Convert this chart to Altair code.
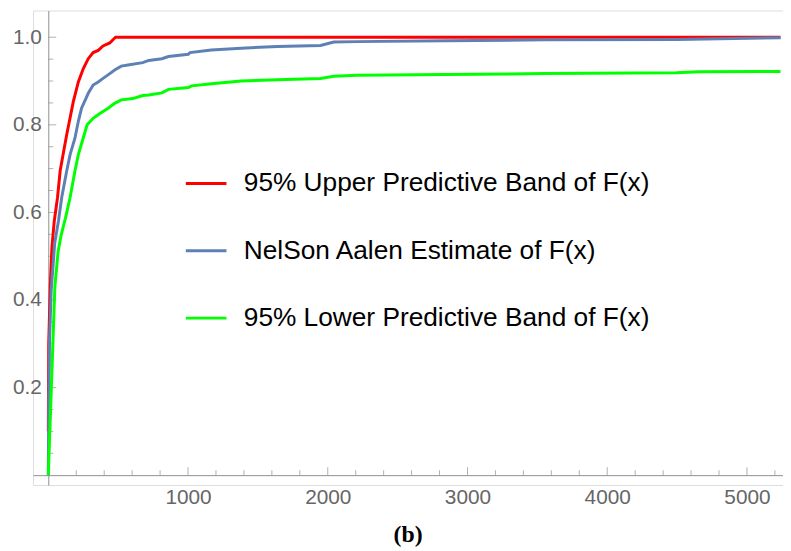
import altair as alt
import pandas as pd

# ---------------- data ----------------
series_names = [
    "95% Upper Predictive Band of F(x)",
    "NelSon Aalen Estimate of F(x)",
    "95% Lower Predictive Band of F(x)",
]
series_colors = ["#FF0000", "#5E81B5", "#00FF00"]

upper_x = [0, 3, 14, 26, 43, 66, 85, 113, 132, 151, 179, 215, 250, 286, 321,
           357, 392, 440, 468, 482, 5240]
upper_y = [0.10, 0.30, 0.43, 0.521, 0.581, 0.634, 0.695, 0.745, 0.778, 0.808,
           0.853, 0.898, 0.928, 0.951, 0.965, 0.970, 0.980, 0.987, 0.996, 1.0, 1.0]

na_x = [0, 3, 9, 21, 46, 73, 96, 132, 156, 191, 215, 238, 286, 321, 357, 392,
        440, 475, 522, 581, 676, 719, 813, 860, 1002, 1014, 1167, 1380, 1640,
        1948, 2043, 2208, 2847, 3556, 4498, 5240]
na_y = [0.0, 0.15, 0.31, 0.423, 0.53, 0.581, 0.634, 0.695, 0.732, 0.77, 0.808,
        0.838, 0.872, 0.891, 0.898, 0.906, 0.917, 0.925, 0.934, 0.937, 0.942,
        0.947, 0.951, 0.956, 0.961, 0.965, 0.971, 0.975, 0.979, 0.981, 0.989,
        0.990, 0.992, 0.994, 0.995, 0.999]

lower_x = [0, 10, 22, 34, 47, 70, 92, 122, 156, 191, 215, 250, 278, 321, 369, 428,
           475, 522, 605, 676, 719, 813, 860, 1002, 1026, 1167, 1380, 1640, 1948,
           2043, 2208, 2847, 3556, 4498, 4650, 5240]
lower_y = [0.0, 0.09, 0.20, 0.31, 0.43, 0.51, 0.548, 0.586, 0.634, 0.695, 0.732,
           0.77, 0.80, 0.815, 0.826, 0.838, 0.849, 0.857, 0.860, 0.867, 0.868,
           0.873, 0.881, 0.885, 0.889, 0.894, 0.900, 0.903, 0.906, 0.911, 0.913,
           0.915, 0.917, 0.919, 0.921, 0.922]

x_label_values = [1000, 2000, 3000, 4000, 5000]
y_label_values = [0.2, 0.4, 0.6, 0.8, 1.0]
x_minor_values = [v for v in range(200, 5201, 200) if v % 1000 != 0]
y_minor_values = [0.05, 0.1, 0.15, 0.25, 0.3, 0.35, 0.45, 0.5, 0.55,
                  0.65, 0.7, 0.75, 0.85, 0.9, 0.95]

caption = "(b)"

# ---------------- build tables ----------------
rows = []
for name, xs, ys in zip(series_names, [upper_x, na_x, lower_x], [upper_y, na_y, lower_y]):
    for i, (a, b) in enumerate(zip(xs, ys)):
        rows.append({"series": name, "t": a, "F": b, "idx": i})
df = pd.DataFrame(rows)

x_major_df = pd.DataFrame({"t": x_label_values})
x_minor_df = pd.DataFrame({"t": x_minor_values})
y_major_df = pd.DataFrame({"F": y_label_values})
y_minor_df = pd.DataFrame({"F": y_minor_values})

# ---------------- layout ----------------
W, H = 757, 479
X_DOMAIN = [-109, 5258]
Y_DOMAIN = [-0.0226, 1.061]
x0_px = W * (0 - X_DOMAIN[0]) / (X_DOMAIN[1] - X_DOMAIN[0])      # y-axis position
y0_px = H * (Y_DOMAIN[1] - 0) / (Y_DOMAIN[1] - Y_DOMAIN[0])      # x-axis position

GRAY = "#8f8f8f"
LABEL_GRAY = "#666666"
FONT = "Liberation Sans"
MAJOR, MINOR = 8, 5

x_scale = alt.Scale(domain=X_DOMAIN, nice=False, zero=False)
y_scale = alt.Scale(domain=Y_DOMAIN, nice=False, zero=False)

lines = alt.Chart(df).mark_line(strokeWidth=3, clip=True).encode(
    x=alt.X("t:Q", scale=x_scale, title=None,
            axis=alt.Axis(orient="bottom", offset=-(H - y0_px), values=x_label_values,
                          ticks=False, tickSize=0, grid=False, domainColor=GRAY,
                          domainWidth=1, labelColor=LABEL_GRAY, labelFont=FONT,
                          labelFontSize=21, labelPadding=12, labelFlush=False,
                          format="d")),
    y=alt.Y("F:Q", scale=y_scale, title=None,
            axis=alt.Axis(orient="left", offset=-x0_px, values=y_label_values,
                          ticks=False, tickSize=0, grid=False, domainColor=GRAY,
                          domainWidth=1, labelColor=LABEL_GRAY, labelFont=FONT,
                          labelFontSize=21, labelPadding=7, labelFlush=False,
                          format=".1f")),
    color=alt.Color("series:N",
                    scale=alt.Scale(domain=series_names, range=series_colors),
                    sort=series_names,
                    legend=alt.Legend(orient="none", legendX=152.7, legendY=152.5,
                                      title=None, symbolType="stroke", symbolSize=1681,
                                      symbolStrokeWidth=3, labelFontSize=26.5,
                                      labelFont=FONT, labelColor="black",
                                      labelLimit=0, labelOffset=16, rowPadding=32,
                                      padding=0)),
    order=alt.Order("idx:Q"),
)

# axis ticks pointing into the plot, placed through the same scales
def x_ticks(data, size):
    return alt.Chart(data).mark_tick(orient="vertical", size=size, thickness=1,
                                     color=GRAY, yOffset=-size / 2).encode(
        x=alt.X("t:Q", scale=x_scale),
        y=alt.datum(0, scale=y_scale),
    )

def y_ticks(data, size):
    return alt.Chart(data).mark_tick(orient="horizontal", size=size, thickness=1,
                                     color=GRAY, xOffset=size / 2).encode(
        y=alt.Y("F:Q", scale=y_scale),
        x=alt.datum(0, scale=x_scale),
    )

chart = alt.layer(
    x_ticks(x_major_df, MAJOR), x_ticks(x_minor_df, MINOR),
    y_ticks(y_major_df, MAJOR), y_ticks(y_minor_df, MINOR),
    lines,
).properties(
    width=W, height=H,
    autosize=alt.AutoSizeParams(type="none"),
    padding={"left": 25.3, "top": 0, "right": 0, "bottom": 62},
    title=alt.TitleParams(caption, orient="bottom", anchor="middle",
                          font="Liberation Serif", fontWeight="bold", fontSize=24,
                          color="black", offset=15),
).configure_view(strokeWidth=0).configure(background="white")

chart.save("out.html", embed_options={"renderer": "svg", "actions": False})
